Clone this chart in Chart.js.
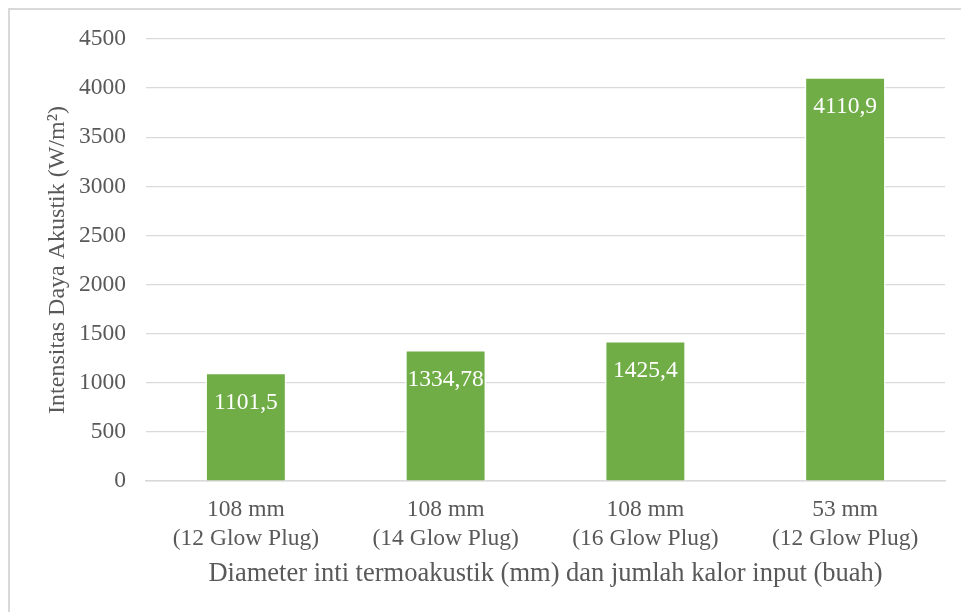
<!DOCTYPE html>
<html>
<head>
<meta charset="utf-8">
<script src="https://cdn.jsdelivr.net/npm/chart.js@4/dist/chart.umd.min.js"></script>
<style>
  html, body { margin: 0; padding: 0; background: #fff; overflow: hidden; }
  #wrap { position: relative; width: 961px; height: 612px; }
  #frame { position: absolute; left: 8px; top: 8px; width: 970px; height: 620px; border: 2px solid #d9d9d9; box-sizing: border-box; pointer-events: none; }
  canvas { position: absolute; left: 0; top: 0; }
</style>
</head>
<body>
<div id="wrap">
  <canvas id="chart" width="961" height="612"></canvas>
  <div id="frame"></div>
</div>
<script>
const diameters = ['108 mm', '108 mm', '108 mm', '53 mm'];
const plugs = ['(12 Glow Plug)', '(14 Glow Plug)', '(16 Glow Plug)', '(12 Glow Plug)'];
const intensity = [1101.5, 1334.78, 1425.4, 4110.9];
const valueText = ['1101,5', '1334,78', '1425,4', '4110,9'];

const FONT = '"Liberation Serif", "Times New Roman", serif';
const GREY = '#595959';
const LINE = '#d9d9d9';

// white value labels just inside the top of each bar
const barLabels = {
  id: 'barLabels',
  afterDatasetsDraw(chart) {
    const c = chart.ctx;
    const meta = chart.getDatasetMeta(0);
    c.save();
    c.fillStyle = '#ffffff';
    c.font = '23.5px ' + FONT;
    c.textAlign = 'center';
    c.textBaseline = 'alphabetic';
    meta.data.forEach((bar, i) => {
      c.fillText(valueText[i], bar.x, bar.y + 36);
    });
    c.restore();
  }
};

new Chart(document.getElementById('chart'), {
  type: 'bar',
  data: {
    labels: diameters.map((d, i) => [d, plugs[i]]),
    datasets: [{
      data: intensity,
      backgroundColor: '#70ad47',
      borderColor: '#ffffff',
      borderWidth: { top: 1.5, left: 1.5, right: 1.5, bottom: 0 },
      barPercentage: 0.405,
      categoryPercentage: 1
    }]
  },
  options: {
    responsive: false,
    animation: false,
    events: [],
    layout: { padding: { left: 0, right: 16, top: 39, bottom: 0 } },
    plugins: { legend: { display: false }, tooltip: { enabled: false } },
    scales: {
      x: {
        afterFit: s => { s.height = 131; },
        grid: { display: false, drawTicks: false },
        border: { display: true, color: LINE, width: 1.5 },
        ticks: {
          color: GREY,
          font: { family: FONT, size: 23.5, lineHeight: 1.25 },
          padding: 14,
          maxRotation: 0,
          autoSkip: false
        },
        title: {
          display: true,
          text: 'Diameter inti termoakustik (mm) dan jumlah kalor input (buah)',
          color: GREY,
          font: { family: FONT, size: 26.5, lineHeight: 1.2 },
          padding: { top: 0, bottom: 22 }
        }
      },
      y: {
        min: 0,
        max: 4500,
        afterFit: s => { s.width = 146; },
        grid: { color: LINE, lineWidth: 1.25, drawTicks: false },
        border: { display: false },
        ticks: {
          stepSize: 500,
          color: GREY,
          padding: 20,
          font: { family: FONT, size: 23.5 },
          callback: v => String(v)
        },
        title: {
          display: true,
          text: 'Intensitas Daya Akustik (W/m²)',
          color: GREY,
          font: { family: FONT, size: 24, lineHeight: 1.2 },
          padding: { top: 43, bottom: 0 }
        }
      }
    }
  },
  plugins: [barLabels]
});
</script>
</body>
</html>
